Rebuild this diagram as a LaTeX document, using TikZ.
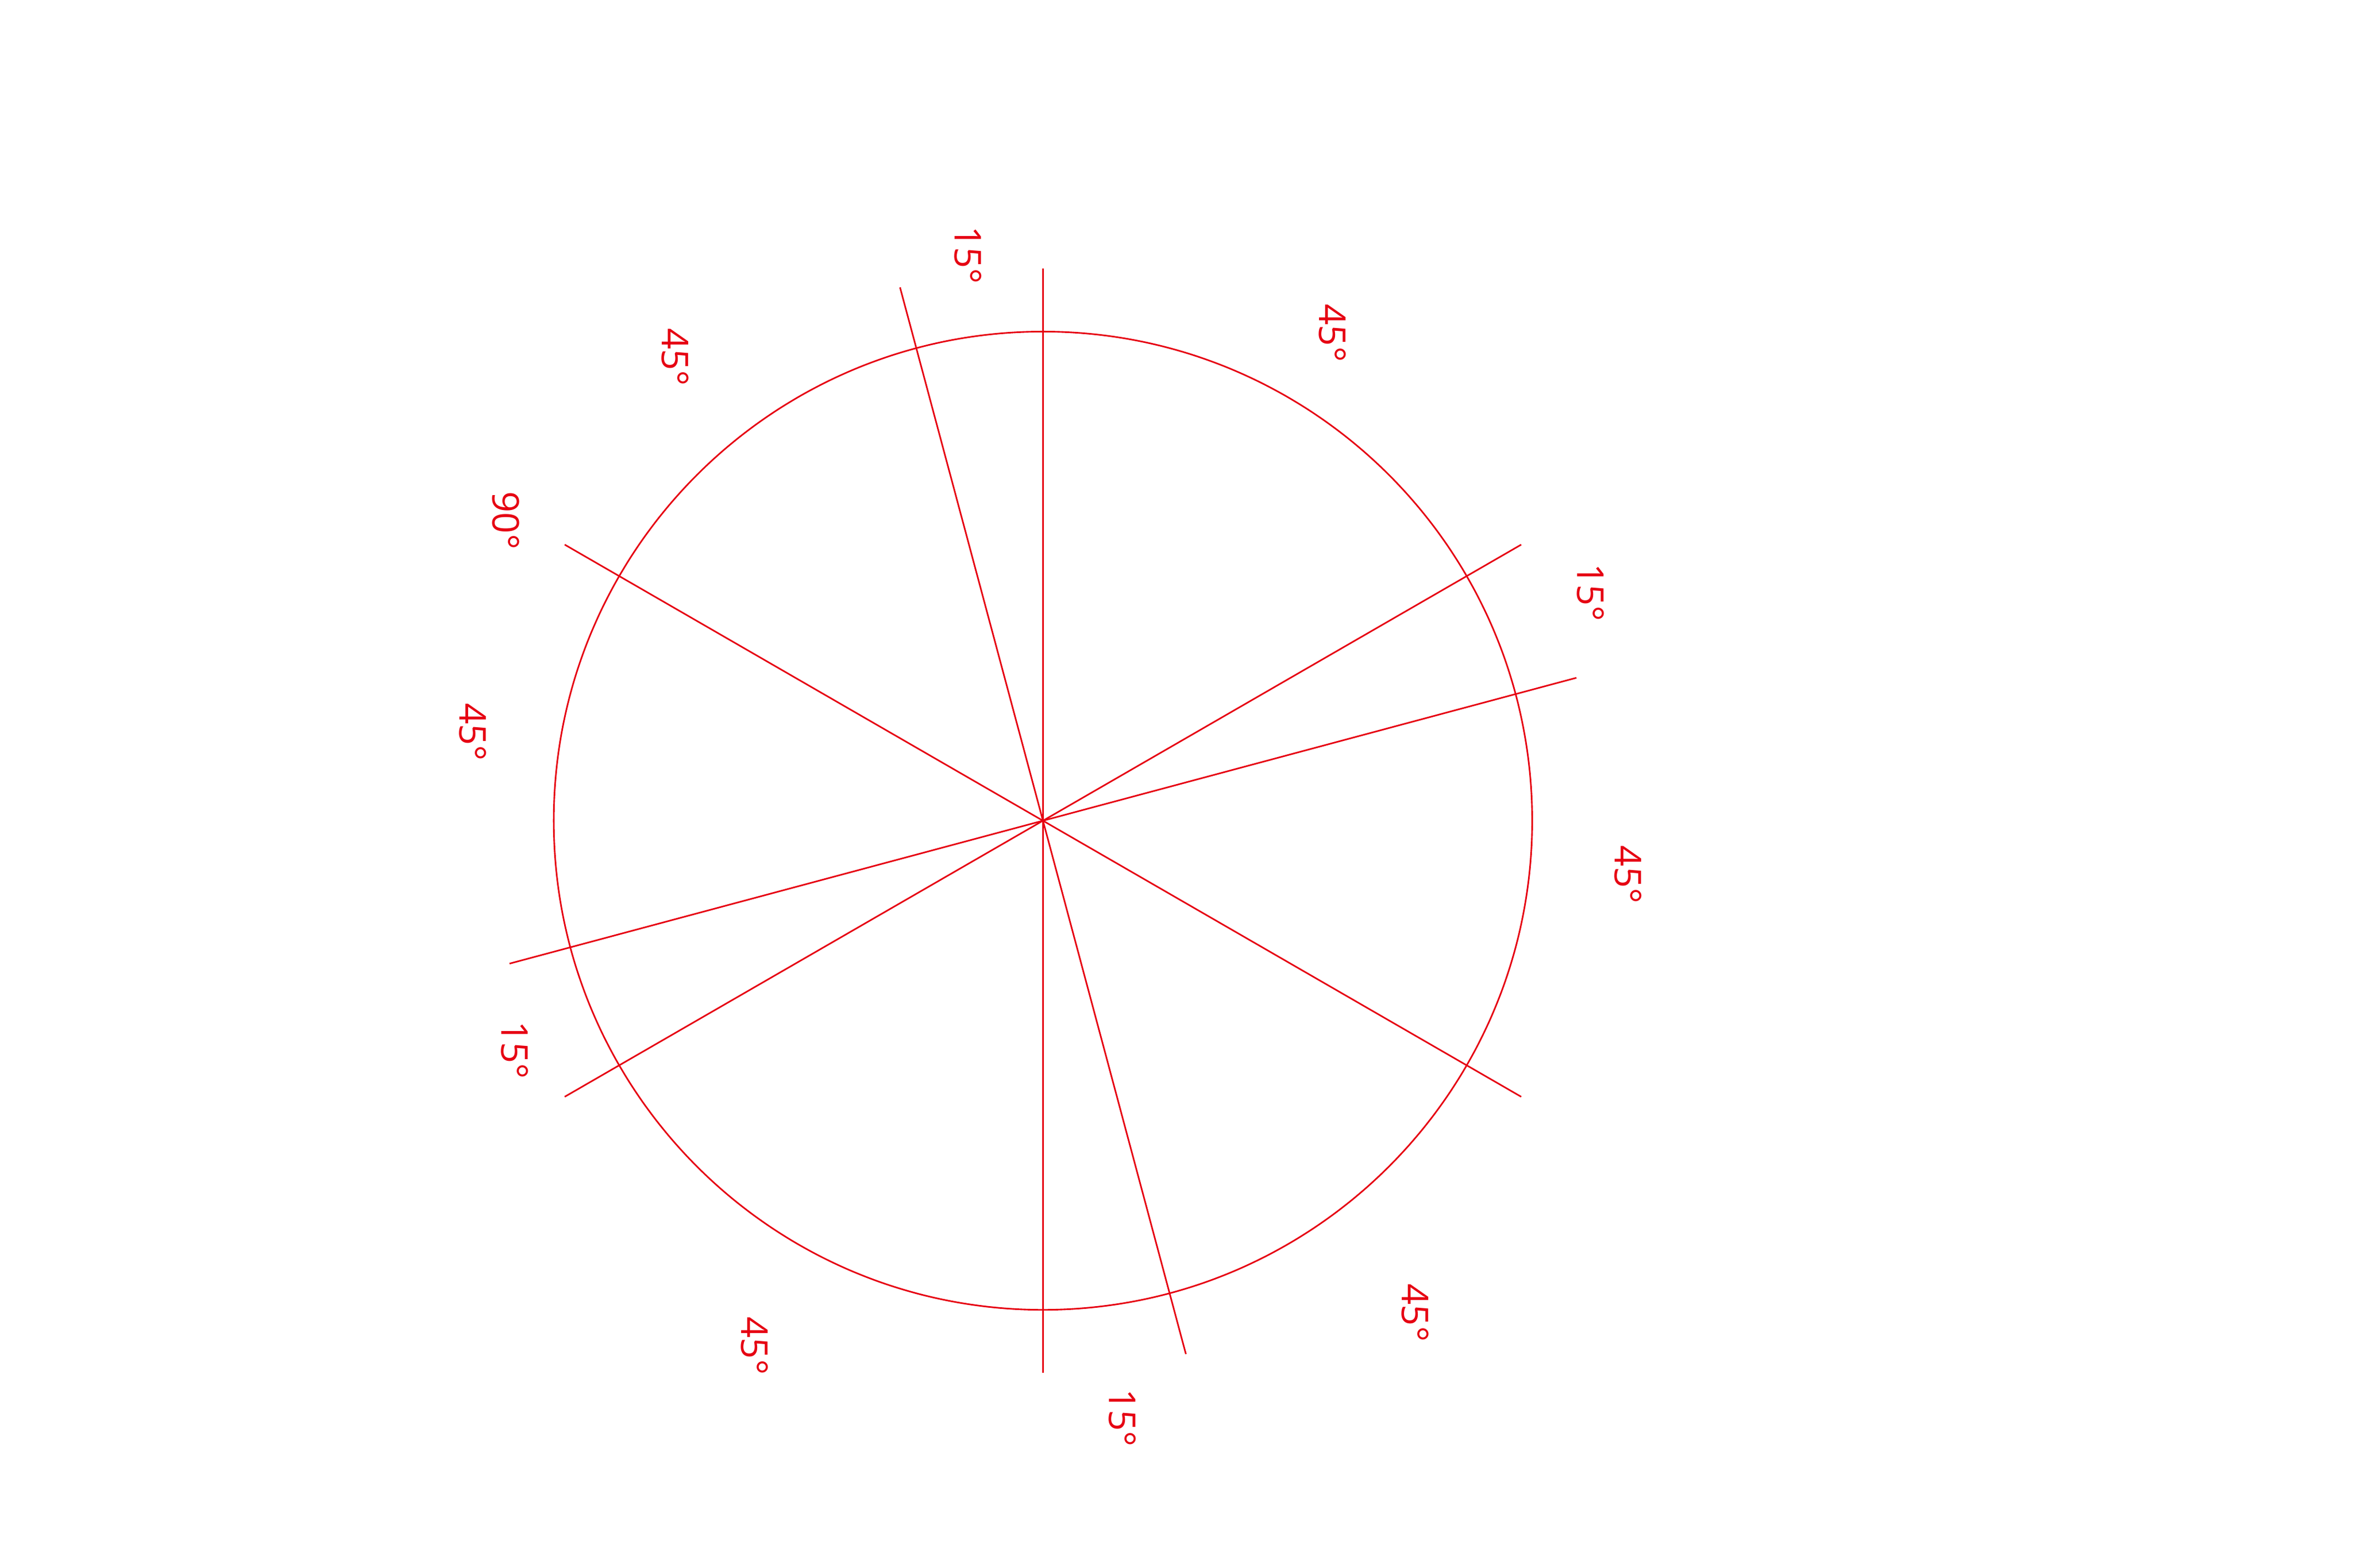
\documentclass[tikz,border=0pt]{standalone}
\usepackage{fontspec}
\setmainfont{Open Sans}
\usetikzlibrary{positioning,calc}
\definecolor{markred}{RGB}{230,0,18}

\begin{document}
\begin{tikzpicture}[x=0.02cm, y=-0.02cm, line width=0.6pt,
	angle/.style={text=markred, rotate=-90, font=\fontsize{14}{16}\selectfont, inner sep=0pt}]
	\useasboundingbox (0,0) rectangle (1568,1045);
	% centre and circle
	\coordinate (O) at (695,547);
	\draw [markred] (O) circle [radius=326];
	
	% Rays through the centre
	\foreach \a/\n in {90/a, 105/b, 150/c, 30/d, 15/e}{
		\coordinate (\n1) at ($(O)+(\a:368 and -368)$);
		\coordinate (\n2) at ($(O)+(\a+180:368 and -368)$);
		\draw [markred] (\n1) -- (\n2);
	}
	
	% Angle labels
	\node [angle] (l1)  at (645,170) {15°};
	\node [angle] (l2)  at (888,222) {45°};
	\node [angle] (l3)  at (1060,395) {15°};
	\node [angle] (l4)  at (1085,583) {45°};
	\node [angle] (l5)  at (943,875) {45°};
	\node [angle] (l6)  at (748,945) {15°};
	\node [angle] (l7)  at (503,897) {45°};
	\node [angle] (l8)  at (343,700) {15°};
	\node [angle] (l9)  at (315,488) {45°};
	\node [angle] (l10) at (337,347) {90°};
	\node [angle] (l11) at (450,238) {45°};
\end{tikzpicture}
\end{document}
